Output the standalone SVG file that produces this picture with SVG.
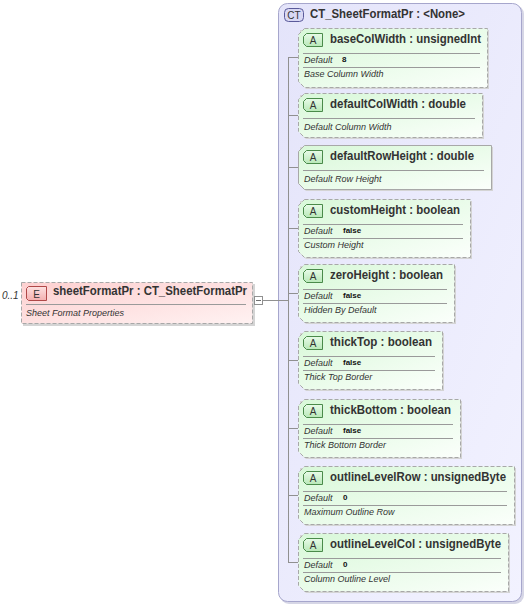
<svg xmlns="http://www.w3.org/2000/svg" width="526" height="605" viewBox="0 0 526 605">
<defs>
<linearGradient id="gA" x1="0" y1="0" x2="1" y2="1"><stop offset="0" stop-color="#d8f8d8"/><stop offset="1" stop-color="#fbfffb"/></linearGradient>
<linearGradient id="gE" x1="0" y1="0" x2="1" y2="1"><stop offset="0" stop-color="#fdd0d0"/><stop offset="1" stop-color="#fff2f2"/></linearGradient>
<linearGradient id="gCT" x1="0" y1="0" x2="1" y2="1"><stop offset="0" stop-color="#e4e4fa"/><stop offset="1" stop-color="#f2f2ff"/></linearGradient>
<linearGradient id="gBA" x1="0" y1="0" x2="0" y2="1"><stop offset="0" stop-color="#e8fbe8"/><stop offset="1" stop-color="#b8e8b8"/></linearGradient>
<linearGradient id="gBE" x1="0" y1="0" x2="0" y2="1"><stop offset="0" stop-color="#fde0e0"/><stop offset="1" stop-color="#f4b0b0"/></linearGradient>
</defs>
<style>
.t{font-family:"Liberation Sans",Arial,sans-serif;font-size:12px;font-weight:bold;fill:#333}
.b{font-family:"Liberation Sans",Arial,sans-serif;font-size:10px;fill:#333;text-anchor:middle}
.d{font-family:"Liberation Sans",Arial,sans-serif;font-size:9px;font-style:italic;fill:#333}
.v{font-family:"Liberation Sans",Arial,sans-serif;font-size:8px;font-weight:bold;fill:#111}
.box{fill:url(#gA);stroke:#a8a8a8;stroke-width:1;stroke-dasharray:4,2}
.boxs{fill:url(#gA);stroke:#a8a8a8;stroke-width:1}
.sh{fill:#d4d4d4}
.sep{stroke:#9a9a9a;stroke-width:1}
.ba{fill:url(#gBA);stroke:#4a8a4a;stroke-width:1}
.ln{stroke:#909090;stroke-width:1;fill:none}
</style>

<g id="ct">
<rect x="280" y="5" width="244" height="599" rx="9" fill="#d6d6e6"/>
<rect x="278.5" y="3.5" width="243" height="598" rx="9" fill="url(#gCT)" stroke="#a6a6cc"/>
<rect x="284.5" y="8.5" width="19" height="13" rx="4" fill="#d8d8f4" stroke="#5a5a9a"/>
<text x="294" y="18.5" class="b">CT</text>
<text x="310" y="18" class="t" textLength="155" lengthAdjust="spacingAndGlyphs">CT_SheetFormatPr : &lt;None&gt;</text>
</g>

<g id="connectors">
<line x1="263" y1="300.5" x2="288" y2="300.5" class="ln"/>
<line x1="288.5" y1="57" x2="288.5" y2="562" class="ln"/>
<line x1="288" y1="57.5" x2="298" y2="57.5" class="ln"/>
<line x1="288" y1="115.5" x2="298" y2="115.5" class="ln"/>
<line x1="288" y1="167.5" x2="298" y2="167.5" class="ln"/>
<line x1="288" y1="228.5" x2="298" y2="228.5" class="ln"/>
<line x1="288" y1="293.5" x2="298" y2="293.5" class="ln"/>
<line x1="288" y1="360.5" x2="298" y2="360.5" class="ln"/>
<line x1="288" y1="428.5" x2="298" y2="428.5" class="ln"/>
<line x1="288" y1="495.5" x2="298" y2="495.5" class="ln"/>
<line x1="288" y1="562.5" x2="298" y2="562.5" class="ln"/>
</g>

<g id="element">
<text x="2" y="299" class="d" style="font-size:10px">0..1</text>
<rect x="23" y="284" width="232" height="42" class="sh"/>
<rect x="21.5" y="282.5" width="231" height="41" fill="url(#gE)" stroke="#a8a8a8" stroke-dasharray="4,2"/>
<path d="M28.5 286.5H46.5V300.5H28.5L26.5 298.5V288.5Z" fill="url(#gBE)" stroke="#b04848"/>
<text x="36.5" y="297.5" class="b">E</text>
<text x="53" y="295" class="t" textLength="194" lengthAdjust="spacingAndGlyphs">sheetFormatPr : CT_SheetFormatPr</text>
<line x1="26" y1="304.5" x2="246" y2="304.5" class="sep"/>
<text x="26" y="316" class="d">Sheet Format Properties</text>
<rect x="254.5" y="296.5" width="8" height="8" fill="#fff" stroke="#909090"/>
<line x1="256" y1="300.5" x2="261" y2="300.5" stroke="#707070"/>
</g>

<g id="baseColWidth">
<path d="M300 30H489V89H306L300 83Z" class="sh"/>
<path d="M304.5 28.5H487.5V87.5H304.5L298.5 81.5V34.5Z" class="box"/>
<path d="M306.5 33.5H322.5V46.5H306.5L303.5 43.5V36.5Z" class="ba"/>
<text x="313" y="44" class="b">A</text>
<text x="330" y="43" class="t" textLength="151" lengthAdjust="spacingAndGlyphs">baseColWidth : unsignedInt</text>
<line x1="303" y1="53.5" x2="480" y2="53.5" class="sep"/>
<text x="304" y="63" class="d">Default</text><text x="342" y="62" class="v">8</text>
<line x1="303" y1="67.5" x2="480" y2="67.5" class="sep"/>
<text x="304" y="77" class="d">Base Column Width</text>
</g>

<g id="defaultColWidth">
<path d="M300 95H484V139H306L300 133Z" class="sh"/>
<path d="M304.5 93.5H482.5V137.5H304.5L298.5 131.5V99.5Z" class="box"/>
<path d="M306.5 98.5H322.5V111.5H306.5L303.5 108.5V101.5Z" class="ba"/>
<text x="313" y="109" class="b">A</text>
<text x="330" y="108" class="t" textLength="136" lengthAdjust="spacingAndGlyphs">defaultColWidth : double</text>
<line x1="303" y1="118.5" x2="475" y2="118.5" class="sep"/>
<text x="304" y="130" class="d">Default Column Width</text>
</g>

<g id="defaultRowHeight">
<path d="M300 147H493V191H306L300 185Z" class="sh"/>
<path d="M304.5 145.5H491.5V189.5H304.5L298.5 183.5V151.5Z" class="boxs"/>
<path d="M306.5 150.5H322.5V163.5H306.5L303.5 160.5V153.5Z" class="ba"/>
<text x="313" y="161" class="b">A</text>
<text x="330" y="160" class="t" textLength="144" lengthAdjust="spacingAndGlyphs">defaultRowHeight : double</text>
<line x1="303" y1="170.5" x2="484" y2="170.5" class="sep"/>
<text x="304" y="182" class="d">Default Row Height</text>
</g>

<g id="customHeight">
<path d="M300 201H472V259H306L300 253Z" class="sh"/>
<path d="M304.5 199.5H470.5V257.5H304.5L298.5 251.5V205.5Z" class="box"/>
<path d="M306.5 204.5H322.5V217.5H306.5L303.5 214.5V207.5Z" class="ba"/>
<text x="313" y="215" class="b">A</text>
<text x="330" y="214" class="t" textLength="130" lengthAdjust="spacingAndGlyphs">customHeight : boolean</text>
<line x1="303" y1="224.5" x2="463" y2="224.5" class="sep"/>
<text x="304" y="234" class="d">Default</text><text x="343" y="233" class="v">false</text>
<line x1="303" y1="238.5" x2="463" y2="238.5" class="sep"/>
<text x="304" y="248" class="d">Custom Height</text>
</g>

<g id="zeroHeight">
<path d="M300 266H456V324H306L300 318Z" class="sh"/>
<path d="M304.5 264.5H454.5V322.5H304.5L298.5 316.5V270.5Z" class="box"/>
<path d="M306.5 269.5H322.5V282.5H306.5L303.5 279.5V272.5Z" class="ba"/>
<text x="313" y="280" class="b">A</text>
<text x="330" y="279" class="t" textLength="113" lengthAdjust="spacingAndGlyphs">zeroHeight : boolean</text>
<line x1="303" y1="289.5" x2="447" y2="289.5" class="sep"/>
<text x="304" y="299" class="d">Default</text><text x="343" y="298" class="v">false</text>
<line x1="303" y1="303.5" x2="447" y2="303.5" class="sep"/>
<text x="304" y="313" class="d">Hidden By Default</text>
</g>

<g id="thickTop">
<path d="M300 333H444V391H306L300 385Z" class="sh"/>
<path d="M304.5 331.5H442.5V389.5H304.5L298.5 383.5V337.5Z" class="box"/>
<path d="M306.5 336.5H322.5V349.5H306.5L303.5 346.5V339.5Z" class="ba"/>
<text x="313" y="347" class="b">A</text>
<text x="330" y="346" class="t" textLength="102" lengthAdjust="spacingAndGlyphs">thickTop : boolean</text>
<line x1="303" y1="356.5" x2="435" y2="356.5" class="sep"/>
<text x="304" y="366" class="d">Default</text><text x="343" y="365" class="v">false</text>
<line x1="303" y1="370.5" x2="435" y2="370.5" class="sep"/>
<text x="304" y="380" class="d">Thick Top Border</text>
</g>

<g id="thickBottom">
<path d="M300 401H462V459H306L300 453Z" class="sh"/>
<path d="M304.5 399.5H460.5V457.5H304.5L298.5 451.5V405.5Z" class="box"/>
<path d="M306.5 404.5H322.5V417.5H306.5L303.5 414.5V407.5Z" class="ba"/>
<text x="313" y="415" class="b">A</text>
<text x="330" y="414" class="t" textLength="121" lengthAdjust="spacingAndGlyphs">thickBottom : boolean</text>
<line x1="303" y1="424.5" x2="453" y2="424.5" class="sep"/>
<text x="304" y="434" class="d">Default</text><text x="343" y="433" class="v">false</text>
<line x1="303" y1="438.5" x2="453" y2="438.5" class="sep"/>
<text x="304" y="448" class="d">Thick Bottom Border</text>
</g>

<g id="outlineLevelRow">
<path d="M300 468H516V526H306L300 520Z" class="sh"/>
<path d="M304.5 466.5H514.5V524.5H304.5L298.5 518.5V472.5Z" class="box"/>
<path d="M306.5 471.5H322.5V484.5H306.5L303.5 481.5V474.5Z" class="ba"/>
<text x="313" y="482" class="b">A</text>
<text x="330" y="481" class="t" textLength="176" lengthAdjust="spacingAndGlyphs">outlineLevelRow : unsignedByte</text>
<line x1="303" y1="491.5" x2="507" y2="491.5" class="sep"/>
<text x="304" y="501" class="d">Default</text><text x="343" y="500" class="v">0</text>
<line x1="303" y1="505.5" x2="507" y2="505.5" class="sep"/>
<text x="304" y="515" class="d">Maximum Outline Row</text>
</g>

<g id="outlineLevelCol">
<path d="M300 535H510V593H306L300 587Z" class="sh"/>
<path d="M304.5 533.5H508.5V591.5H304.5L298.5 585.5V539.5Z" class="box"/>
<path d="M306.5 538.5H322.5V551.5H306.5L303.5 548.5V541.5Z" class="ba"/>
<text x="313" y="549" class="b">A</text>
<text x="330" y="548" class="t" textLength="171" lengthAdjust="spacingAndGlyphs">outlineLevelCol : unsignedByte</text>
<line x1="303" y1="558.5" x2="501" y2="558.5" class="sep"/>
<text x="304" y="568" class="d">Default</text><text x="343" y="567" class="v">0</text>
<line x1="303" y1="572.5" x2="501" y2="572.5" class="sep"/>
<text x="304" y="582" class="d">Column Outline Level</text>
</g>
</svg>
